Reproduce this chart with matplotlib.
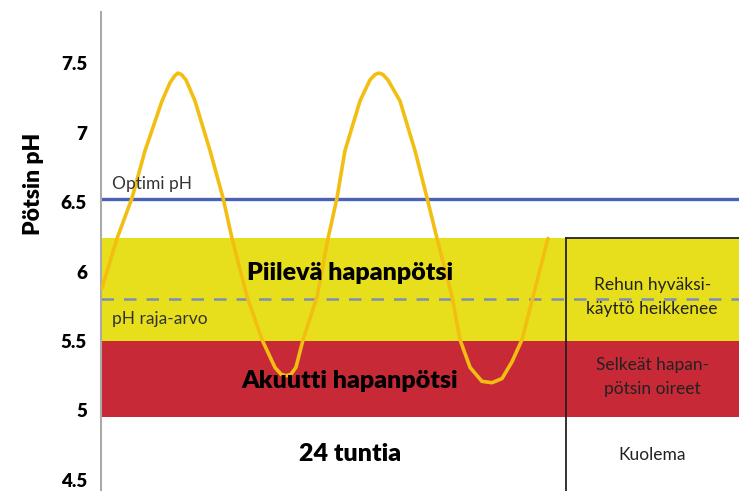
import matplotlib.pyplot as plt
from matplotlib.patches import Rectangle

# pH-arvot vuorokauden aikana (luettu kuvasta)
tunnit = [0.05, 0.83, 1.60, 2.27, 3.15, 3.56, 3.80, 3.97, 4.15, 4.39, 4.85, 5.63, 6.30, 6.76,
          7.54, 8.31, 8.98, 9.30, 9.55, 9.80, 10.06, 10.43, 11.15, 11.72, 12.18, 12.59,
          13.37, 13.88, 14.15, 14.35, 14.55, 14.81, 15.43, 16.21, 16.83, 17.34, 18.12,
          18.53, 19.05, 19.66, 20.18, 20.70, 21.21, 21.73, 22.30, 23.07]
ph = [5.88, 6.24, 6.53, 6.87, 7.23, 7.36, 7.41, 7.43, 7.42, 7.38, 7.23, 6.87, 6.53, 6.24,
      5.82, 5.51, 5.31, 5.26, 5.25, 5.26, 5.31, 5.51, 5.82, 6.24, 6.53, 6.87,
      7.23, 7.38, 7.42, 7.43, 7.42, 7.38, 7.23, 6.87, 6.53, 6.24, 5.82,
      5.51, 5.31, 5.21, 5.20, 5.23, 5.35, 5.51, 5.82, 6.24]

optimi_ph = 6.52
raja_ph = 5.8
piilevä = (5.5, 6.24)
akuutti = (4.95, 5.5)
tunnit_raja = 24
x_max = 32.93

yticks = [4.5, 5, 5.5, 6, 6.5, 7, 7.5]
ytick_labels = ['4.5', '5', '5.5', '6', '6.5', '7', '7.5']

keltainen = '#E8DF1C'
punainen = '#C72937'

fig = plt.figure(figsize=(7.39, 4.91), dpi=100)
ax = fig.add_axes([101 / 739, 0, 1 - 101 / 739, 1 - 12 / 491])
ax.set_xlim(0, x_max)
ax.set_ylim(4.42, 7.87)

# Vyöhykkeet
ax.add_patch(Rectangle((0, piilevä[0]), x_max + 2, piilevä[1] - piilevä[0], facecolor=keltainen,
                       edgecolor='none', lw=0, zorder=1))
ax.add_patch(Rectangle((0, akuutti[0]), x_max + 2, akuutti[1] - akuutti[0], facecolor=punainen,
                       edgecolor='none', lw=0, zorder=1))

# Oikeanpuoleinen laatikko
ax.plot([tunnit_raja, x_max + 1], [piilevä[1], piilevä[1]], color='#222222', lw=1.3, zorder=3)
ax.plot([tunnit_raja, tunnit_raja], [4.42, piilevä[1]], color='#222222', lw=1.3, zorder=3)

# Viivat
ax.axhline(optimi_ph, color='#4A62B5', lw=2.4, zorder=2)
ax.axhline(raja_ph, color='#7C8DBA', lw=1.8, ls=(0, (5, 4)), zorder=2)
ax.plot(tunnit, ph, color='#F2BE12', lw=2.6, solid_joinstyle='round', solid_capstyle='round', zorder=4)

# Tekstit
ax.text(0.55, optimi_ph + 0.05, 'Optimi pH', fontsize=12.5, color='#333333', va='bottom', family='Lato', zorder=5)
ax.text(0.55, 5.66, 'pH raja-arvo', fontsize=12.5, color='#333333', va='center', family='Lato', zorder=5)
ax.text(12.85, 5.99, 'Piilevä hapanpötsi', fontsize=18, fontweight='heavy', ha='center', va='center', family='Lato', zorder=5)
ax.text(12.85, 5.21, 'Akuutti hapanpötsi', fontsize=18, fontweight='heavy', ha='center', va='center', family='Lato', zorder=5)
ax.text(12.85, 4.69, '24 tuntia', fontsize=18, fontweight='heavy', ha='center', va='center', family='Lato', zorder=5)
ax.text(28.45, 5.82, 'Rehun hyväksi-\nkäyttö heikkenee', fontsize=12.5, color='#222222', ha='center', va='center',
        family='Lato', linespacing=1.6, zorder=5)
ax.text(28.45, 5.24, 'Selkeät hapan-\npötsin oireet', fontsize=12.5, color='#222222', ha='center', va='center',
        family='Lato', linespacing=1.6, zorder=5)
ax.text(28.45, 4.68, 'Kuolema', fontsize=12.5, color='#222222', ha='center', va='center', family='Lato', zorder=5)

# Akselit
for s in ['top', 'right', 'bottom']:
    ax.spines[s].set_visible(False)
ax.spines['left'].set_color('#AAAAAA')
ax.spines['left'].set_linewidth(1.5)
ax.set_xticks([])
ax.set_yticks(yticks)
ax.set_yticklabels(ytick_labels, fontsize=13.5, fontweight='heavy', family='Lato')
ax.tick_params(axis='y', length=0, pad=10)

fig.text(33 / 739, 1 - 184 / 491, 'Pötsin pH', rotation=90, fontsize=16.5, fontweight='heavy',
         ha='center', va='center', family='Lato')

fig.savefig('out.png', dpi=100)
